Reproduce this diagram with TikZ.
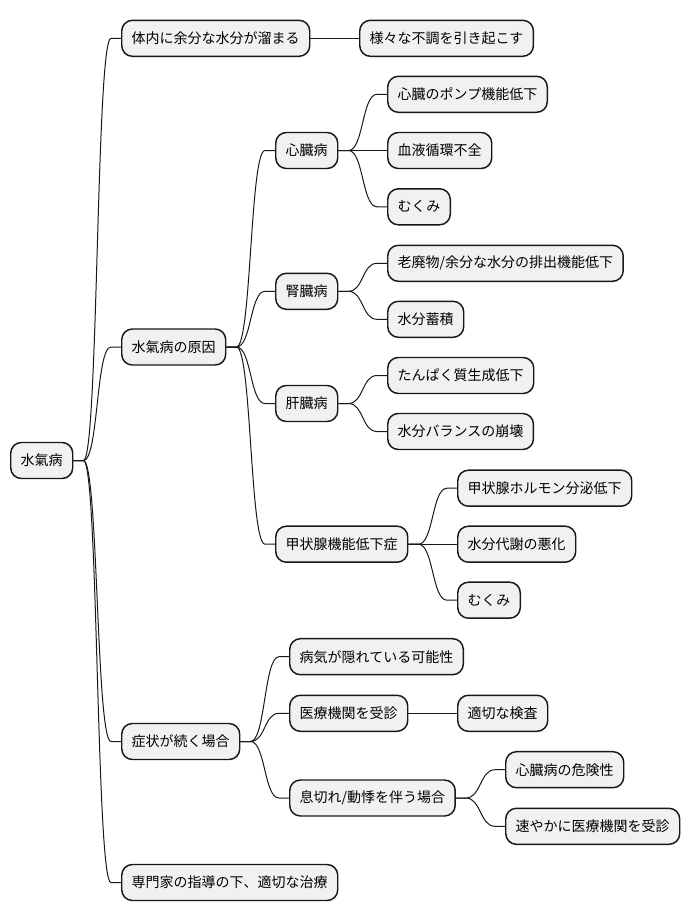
\documentclass[tikz,border=0pt]{standalone}
\usepackage{fontspec}
\setmainfont{Noto Sans CJK JP}
\usetikzlibrary{calc}
\definecolor{nodefill}{HTML}{F1F1F1}
\definecolor{nodeline}{HTML}{181818}
\tikzset{
  topic/.style={draw=nodeline,fill=nodefill,line width=1.1pt,rounded corners=8pt,
                minimum height=27pt,inner xsep=7.5pt,inner ysep=0pt,anchor=west,
                font=\fontsize{10.5pt}{12pt}\selectfont},
  branch/.style={draw=nodeline,line width=0.75pt,
                 to path={-- ++(10,0) .. controls +(15,0) and +(-15,0)
                          .. ($(\tikztotarget)+(-10,0)$) -- (\tikztotarget)}},
}
\begin{document}
\begin{tikzpicture}[x=0.75pt,y=-0.75pt]
  \useasboundingbox (0,0) rectangle (689,921);
  % ---- root ----
  \node[topic] (suiki) at (10,460.5) {水氣病};
  % ---- first level ----
  \node[topic] (body) at (121,38.3) {体内に余分な水分が溜まる};
  \node[topic] (cause) at (121,347) {水氣病の原因};
  \node[topic] (persist) at (121,741.5) {症状が続く場合};
  \node[topic] (treat) at (121,882.5) {専門家の指導の下、適切な治療};
  \node[topic] (upset) at (359,38.3) {様々な不調を引き起こす};
  % ---- causes ----
  \node[topic] (heart) at (275,150.5) {心臓病};
  \node[topic] (pump) at (387,94.3) {心臓のポンプ機能低下};
  \node[topic] (blood) at (387,150.5) {血液循環不全};
  \node[topic] (edemaA) at (387,206.8) {むくみ};
  \node[topic] (kidney) at (275,291.3) {腎臓病};
  \node[topic] (waste) at (387,263.3) {老廃物/余分な水分の排出機能低下};
  \node[topic] (accum) at (387,319.3) {水分蓄積};
  \node[topic] (liver) at (275,403.5) {肝臓病};
  \node[topic] (protein) at (387,375.5) {たんぱく質生成低下};
  \node[topic] (balance) at (387,431.5) {水分バランスの崩壊};
  \node[topic] (thyroid) at (275,544.2) {甲状腺機能低下症};
  \node[topic] (hormone) at (457,488.2) {甲状腺ホルモン分泌低下};
  \node[topic] (metab) at (457,544.2) {水分代謝の悪化};
  \node[topic] (edemaB) at (457,600.2) {むくみ};
  % ---- persisting symptoms ----
  \node[topic] (hidden) at (289,656.7) {病気が隠れている可能性};
  \node[topic] (visit) at (289,713.3) {医療機関を受診};
  \node[topic] (exam) at (457,713.3) {適切な検査};
  \node[topic] (breath) at (289,798) {息切れ/動悸を伴う場合};
  \node[topic] (risk) at (505,769.7) {心臓病の危険性};
  \node[topic] (promptly) at (505,826.3) {速やかに医療機関を受診};
  % ---- branches ----
  \draw[branch] (suiki.east) to (body.west);
  \draw[branch] (suiki.east) to (cause.west);
  \draw[branch] (suiki.east) to (persist.west);
  \draw[branch] (suiki.east) to (treat.west);
  \draw[branch] (body.east) to (upset.west);
  \draw[branch] (cause.east) to (heart.west);
  \draw[branch] (cause.east) to (kidney.west);
  \draw[branch] (cause.east) to (liver.west);
  \draw[branch] (cause.east) to (thyroid.west);
  \draw[branch] (heart.east) to (pump.west);
  \draw[branch] (heart.east) to (blood.west);
  \draw[branch] (heart.east) to (edemaA.west);
  \draw[branch] (kidney.east) to (waste.west);
  \draw[branch] (kidney.east) to (accum.west);
  \draw[branch] (liver.east) to (protein.west);
  \draw[branch] (liver.east) to (balance.west);
  \draw[branch] (thyroid.east) to (hormone.west);
  \draw[branch] (thyroid.east) to (metab.west);
  \draw[branch] (thyroid.east) to (edemaB.west);
  \draw[branch] (persist.east) to (hidden.west);
  \draw[branch] (persist.east) to (visit.west);
  \draw[branch] (persist.east) to (breath.west);
  \draw[branch] (visit.east) to (exam.west);
  \draw[branch] (breath.east) to (risk.west);
  \draw[branch] (breath.east) to (promptly.west);
\end{tikzpicture}
\end{document}
